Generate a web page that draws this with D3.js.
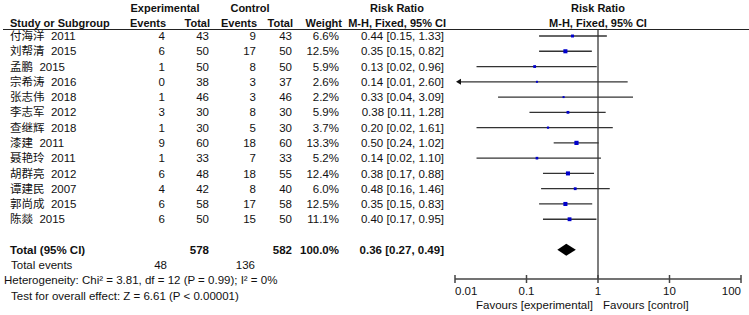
<!DOCTYPE html>
<html><head><meta charset="utf-8">
<script src="https://cdn.jsdelivr.net/npm/d3@7"></script>
<style>
html,body{margin:0;padding:0;background:#fff;}
svg{display:block;}
text{font-family:"Liberation Sans",Arial,"Noto Sans CJK SC",sans-serif;font-size:11.5px;fill:#111;white-space:pre;}
.b{font-weight:bold;}
.h{font-weight:bold;font-size:11px;}
</style></head>
<body>
<svg id="c" width="749" height="315"></svg>
<script>
const studies = ["付海洋  2011","刘帮清  2015","孟鹏  2015","宗希涛  2016","张志伟  2018","李志军  2012","查继辉  2018","漆建  2011","聂艳玲  2011","胡群亮  2012","谭建民  2007","郭尚成  2015","陈燚  2015"];
const expEvents = [4,6,1,0,1,3,1,9,1,6,4,6,6];
const expTotal  = [43,50,50,38,46,30,30,60,33,48,42,58,50];
const ctlEvents = [9,17,8,3,3,8,5,18,7,18,8,17,15];
const ctlTotal  = [43,50,50,37,46,30,30,60,33,55,40,58,50];
const weights   = [6.6,12.5,5.9,2.6,2.2,5.9,3.7,13.3,5.2,12.4,6.0,12.5,11.1];
const rr        = [0.44,0.35,0.13,0.14,0.33,0.38,0.20,0.50,0.14,0.38,0.48,0.35,0.40];
const lo        = [0.15,0.15,0.02,0.01,0.04,0.11,0.02,0.24,0.02,0.17,0.16,0.15,0.17];
const hi        = [1.33,0.82,0.96,2.60,3.09,1.28,1.61,1.02,1.10,0.88,1.46,0.83,0.95];
const total = {expTotal:578, ctlTotal:582, weight:"100.0%", rr:0.36, lo:0.27, hi:0.49, expEvents:48, ctlEvents:136};
const axisTicks = [0.01,0.1,1,10,100];
const axisTickLabels = ["0.01","0.1","1","10","100"];
const heterogeneity = "Heterogeneity: Chi² = 3.81, df = 12 (P = 0.99); I² = 0%";
const overall = "Test for overall effect: Z = 6.61 (P < 0.00001)";

const svg = d3.select("#c");
const x = d3.scaleLog().domain([0.01,100]).range([455,741]);
const y = d3.scaleLinear().domain([0,1]).range([36,51.27]);
const f2 = d3.format(".2f");
const col = {name:10, ee:165, et:209, ce:256, ct:292, w:339, rr:444};

function txt(xp, yp, s, anchor, cls){
  return svg.append("text").attr("x",xp).attr("y",yp).attr("dy","0.36em")
    .attr("text-anchor",anchor||"start").attr("class",cls||null).text(s);
}

// headers
txt(165,8,"Experimental","middle","h");
txt(250,8,"Control","middle","h");
txt(397,8,"Risk Ratio","middle","h");
txt(x(1),8,"Risk Ratio","middle","h");
txt(col.name,23,"Study or Subgroup","start","h");
txt(col.ee+1,23,"Events","end","h");
txt(col.et+1,23,"Total","end","h");
txt(col.ce+1,23,"Events","end","h");
txt(col.ct+1,23,"Total","end","h");
txt(col.w+3,23,"Weight","end","h");
txt(col.rr+2,23,"M-H, Fixed, 95% CI","end","h");
txt(x(1),23,"M-H, Fixed, 95% CI","middle","h");
svg.append("line").attr("x1",3).attr("x2",749).attr("y1",29.5).attr("y2",29.5).attr("stroke","#222").attr("stroke-width",1);

// vertical line of no effect
svg.append("line").attr("x1",x(1)).attr("x2",x(1)).attr("y1",30).attr("y2",279).attr("stroke","#707070").attr("stroke-width",1.8);

studies.forEach((s,i)=>{
  const yy = y(i);
  txt(col.name,yy,s);
  txt(col.ee,yy,expEvents[i],"end");
  txt(col.et,yy,expTotal[i],"end");
  txt(col.ce,yy,ctlEvents[i],"end");
  txt(col.ct,yy,ctlTotal[i],"end");
  txt(col.w,yy,weights[i].toFixed(1)+"%","end");
  txt(col.rr,yy,f2(rr[i])+" ["+f2(lo[i])+", "+f2(hi[i])+"]","end");
  const l = Math.max(lo[i],0.01), h = Math.min(hi[i],100);
  const arrowL = lo[i] <= 0.01;
  svg.append("line").attr("x1",x(l)+(arrowL?3:0)).attr("x2",x(h)).attr("y1",yy).attr("y2",yy)
    .attr("stroke","#333").attr("stroke-width",1.3);
  if(arrowL){
    const ax = x(0.01)+1;
    svg.append("path").attr("d",`M${ax},${yy} L${ax+5},${yy-3} L${ax+5},${yy+3} Z`).attr("fill","#111");
  }
  const sz = Math.max(2, Math.sqrt(weights[i])*1.15);
  svg.append("rect").attr("x",x(rr[i])-sz/2).attr("y",yy-sz/2).attr("width",sz).attr("height",sz).attr("fill","#0000cc");
});

// total row
const ty = y(14);
txt(col.name,ty,"Total (95% CI)","start","b");
txt(col.et,ty,total.expTotal,"end","b");
txt(col.ct,ty,total.ctlTotal,"end","b");
txt(col.w,ty,total.weight,"end","b");
txt(col.rr,ty,f2(total.rr)+" ["+f2(total.lo)+", "+f2(total.hi)+"]","end","b");
svg.append("path").attr("d",`M${x(total.lo)},${ty} L${x(total.rr)},${ty-6} L${x(total.hi)},${ty} L${x(total.rr)},${ty+6} Z`).attr("fill","#000");

const ey = y(15);
txt(11,ey,"Total events");
txt(col.ee+2,ey,total.expEvents,"end");
txt(col.ce-1,ey,total.ctlEvents,"end");
txt(4,y(16),heterogeneity);
txt(11,y(17),overall);

// axis
const ay = 279;
svg.append("line").attr("x1",x(0.01)).attr("x2",x(100)).attr("y1",ay).attr("y2",ay).attr("stroke","#444").attr("stroke-width",1.5);
axisTicks.forEach((t,i)=>{
  svg.append("line").attr("x1",x(t)).attr("x2",x(t)).attr("y1",ay-4).attr("y2",ay+4).attr("stroke","#444").attr("stroke-width",1.5);
  const anchor = i===0 ? "start" : (i===axisTicks.length-1 ? "end" : "middle");
  txt(x(t),290.5,axisTickLabels[i],anchor);
});
txt(x(1)-5,305,"Favours [experimental]","end");
txt(x(1)+5,305,"Favours [control]","start");
</script>
</body></html>
